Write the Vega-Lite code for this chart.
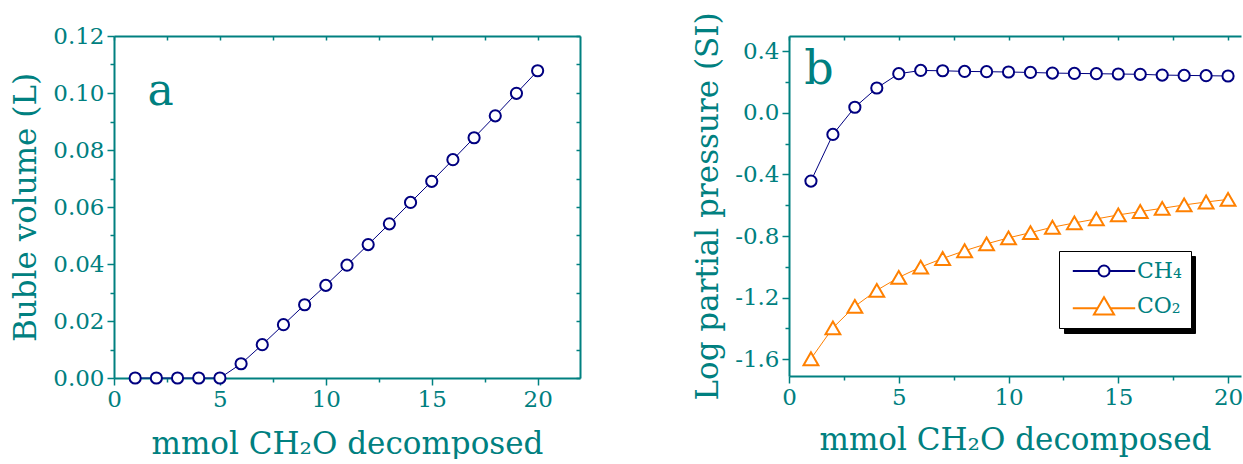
{
  "$schema": "https://vega.github.io/schema/vega-lite/v6.json",
  "padding": {"left": 10, "top": 11, "right": 0, "bottom": 0},
  "spacing": 209,
  "bounds": "flush",
  "datasets": {
    "bubble": [
      {"mmol": 1, "vol": 0}, {"mmol": 2, "vol": 0}, {"mmol": 3, "vol": 0}, {"mmol": 4, "vol": 0}, {"mmol": 5, "vol": 0},
      {"mmol": 6, "vol": 0.0050}, {"mmol": 7, "vol": 0.0117}, {"mmol": 8, "vol": 0.0187}, {"mmol": 9, "vol": 0.0257},
      {"mmol": 10, "vol": 0.0325}, {"mmol": 11, "vol": 0.0396}, {"mmol": 12, "vol": 0.0468}, {"mmol": 13, "vol": 0.0541},
      {"mmol": 14, "vol": 0.0616}, {"mmol": 15, "vol": 0.0690}, {"mmol": 16, "vol": 0.0766}, {"mmol": 17, "vol": 0.0843},
      {"mmol": 18, "vol": 0.0920}, {"mmol": 19, "vol": 0.0999}, {"mmol": 20, "vol": 0.1078}
    ],
    "pp": [
      {"mmol": 1, "gas": "CH₄", "logp": -0.443}, {"mmol": 2, "gas": "CH₄", "logp": -0.140}, {"mmol": 3, "gas": "CH₄", "logp": 0.037},
      {"mmol": 4, "gas": "CH₄", "logp": 0.162}, {"mmol": 5, "gas": "CH₄", "logp": 0.255}, {"mmol": 6, "gas": "CH₄", "logp": 0.276},
      {"mmol": 7, "gas": "CH₄", "logp": 0.274}, {"mmol": 8, "gas": "CH₄", "logp": 0.270}, {"mmol": 9, "gas": "CH₄", "logp": 0.268},
      {"mmol": 10, "gas": "CH₄", "logp": 0.266}, {"mmol": 11, "gas": "CH₄", "logp": 0.263}, {"mmol": 12, "gas": "CH₄", "logp": 0.259},
      {"mmol": 13, "gas": "CH₄", "logp": 0.257}, {"mmol": 14, "gas": "CH₄", "logp": 0.255}, {"mmol": 15, "gas": "CH₄", "logp": 0.253},
      {"mmol": 16, "gas": "CH₄", "logp": 0.251}, {"mmol": 17, "gas": "CH₄", "logp": 0.246}, {"mmol": 18, "gas": "CH₄", "logp": 0.244},
      {"mmol": 19, "gas": "CH₄", "logp": 0.242}, {"mmol": 20, "gas": "CH₄", "logp": 0.240},
      {"mmol": 1, "gas": "CO₂", "logp": -1.598}, {"mmol": 2, "gas": "CO₂", "logp": -1.397}, {"mmol": 3, "gas": "CO₂", "logp": -1.257},
      {"mmol": 4, "gas": "CO₂", "logp": -1.153}, {"mmol": 5, "gas": "CO₂", "logp": -1.069}, {"mmol": 6, "gas": "CO₂", "logp": -1.002},
      {"mmol": 7, "gas": "CO₂", "logp": -0.946}, {"mmol": 8, "gas": "CO₂", "logp": -0.896}, {"mmol": 9, "gas": "CO₂", "logp": -0.851},
      {"mmol": 10, "gas": "CO₂", "logp": -0.812}, {"mmol": 11, "gas": "CO₂", "logp": -0.778}, {"mmol": 12, "gas": "CO₂", "logp": -0.743},
      {"mmol": 13, "gas": "CO₂", "logp": -0.715}, {"mmol": 14, "gas": "CO₂", "logp": -0.689}, {"mmol": 15, "gas": "CO₂", "logp": -0.663},
      {"mmol": 16, "gas": "CO₂", "logp": -0.641}, {"mmol": 17, "gas": "CO₂", "logp": -0.620}, {"mmol": 18, "gas": "CO₂", "logp": -0.598},
      {"mmol": 19, "gas": "CO₂", "logp": -0.579}, {"mmol": 20, "gas": "CO₂", "logp": -0.562}
    ],
    "labelA": [{"label": "a", "mmol": 2.2, "vol": 0.0958}],
    "labelB": [{"label": "b", "mmol": 1.37, "logp": 0.19}]
  },
  "hconcat": [
    {
      "width": 466,
      "height": 342,
      "layer": [
        {
          "data": {"name": "bubble"},
          "mark": {"type": "line", "color": "#000080", "strokeWidth": 1},
          "encoding": {
            "x": {
              "field": "mmol", "type": "quantitative",
              "scale": {"domain": [0, 22], "nice": false, "zero": false},
              "axis": {
                "orient": "bottom",
                "values": [0, 2.5, 5, 7.5, 10, 12.5, 15, 17.5, 20],
                "labelExpr": "datum.value % 5 == 0 ? format(datum.value, 'd') : ''",
                "tickSize": {"condition": {"test": "datum.value % 5 == 0", "value": 7}, "value": 4},
                "title": "mmol CH₂O decomposed",
                "titlePadding": 18
              }
            },
            "y": {
              "field": "vol", "type": "quantitative",
              "scale": {"domain": [0, 0.12], "nice": false},
              "axis": {
                "orient": "left",
                "values": [0, 0.01, 0.02, 0.03, 0.04, 0.05, 0.06, 0.07, 0.08, 0.09, 0.1, 0.11, 0.12],
                "labelExpr": "round(datum.value * 100) % 2 == 0 ? format(datum.value, '.2f') : ''",
                "tickSize": {"condition": {"test": "round(datum.value * 100) % 2 == 0", "value": 7}, "value": 4},
                "title": "Buble volume (L)",
                "titlePadding": 10
              }
            }
          }
        },
        {
          "data": {"name": "bubble"},
          "mark": {"type": "point", "shape": "circle", "size": 125, "filled": true, "fill": "white", "stroke": "#000080", "strokeWidth": 2, "opacity": 1},
          "encoding": {
            "x": {"field": "mmol", "type": "quantitative", "axis": null},
            "y": {"field": "vol", "type": "quantitative", "axis": null}
          }
        },
        {
          "data": {"name": "labelA"},
          "mark": {"type": "text", "font": "DejaVu Serif", "fontSize": 44, "color": "#008080", "align": "center", "baseline": "alphabetic"},
          "encoding": {
            "x": {"field": "mmol", "type": "quantitative", "axis": null},
            "y": {"field": "vol", "type": "quantitative", "axis": null},
            "text": {"field": "label"}
          }
        },
        {
          "data": {"name": "bubble"},
          "mark": {"type": "point", "opacity": 0},
          "encoding": {
            "x": {
              "field": "mmol", "type": "quantitative",
              "axis": {"orient": "top", "values": [0, 2.5, 5, 7.5, 10, 12.5, 15, 17.5, 20], "labels": false, "tickSize": -4, "title": null}
            },
            "y": {
              "field": "vol", "type": "quantitative",
              "axis": {"orient": "right", "values": [0, 0.01, 0.02, 0.03, 0.04, 0.05, 0.06, 0.07, 0.08, 0.09, 0.1, 0.11, 0.12], "labels": false, "tickSize": -4, "title": null}
            }
          }
        }
      ],
      "resolve": {"axis": {"x": "independent", "y": "independent"}}
    },
    {
      "width": 452,
      "height": 340,
      "layer": [
        {
          "data": {"name": "pp"},
          "mark": {"type": "line", "strokeWidth": 1},
          "encoding": {
            "x": {
              "field": "mmol", "type": "quantitative",
              "scale": {"domain": [0, 20.59], "nice": false, "zero": false},
              "axis": {
                "orient": "bottom",
                "values": [0, 2.5, 5, 7.5, 10, 12.5, 15, 17.5, 20],
                "labelExpr": "datum.value % 5 == 0 ? format(datum.value, 'd') : ''",
                "tickSize": {"condition": {"test": "datum.value % 5 == 0", "value": 7}, "value": 4},
                "title": "mmol CH₂O decomposed",
                "titlePadding": 16
              }
            },
            "y": {
              "field": "logp", "type": "quantitative",
              "scale": {"domain": [-1.71, 0.5], "nice": false, "zero": false},
              "axis": {
                "orient": "left",
                "values": [-1.6, -1.4, -1.2, -1, -0.8, -0.6, -0.4, -0.2, 0, 0.2, 0.4],
                "labelExpr": "abs(round(datum.value * 10)) % 4 == 0 ? replace(format(datum.value, '.1f'), '−', '-') : ''",
                "tickSize": {"condition": {"test": "abs(round(datum.value * 10)) % 4 == 0", "value": 7}, "value": 4},
                "title": "Log partial pressure (SI)",
                "titlePadding": 10
              }
            },
            "color": {"field": "gas", "type": "nominal", "scale": {"domain": ["CH₄", "CO₂"], "range": ["#000080", "#FF8000"]}, "legend": null}
          }
        },
        {
          "data": {"name": "pp"},
          "mark": {"type": "point", "filled": true, "fill": "white", "strokeWidth": 2, "opacity": 1},
          "encoding": {
            "x": {"field": "mmol", "type": "quantitative", "axis": null},
            "y": {"field": "logp", "type": "quantitative", "axis": null},
            "stroke": {"field": "gas", "type": "nominal", "scale": {"domain": ["CH₄", "CO₂"], "range": ["#000080", "#FF8000"]}, "legend": null},
            "shape": {"field": "gas", "type": "nominal", "scale": {"domain": ["CH₄", "CO₂"], "range": ["circle", "triangle-up"]}, "legend": null},
            "size": {"field": "gas", "type": "nominal", "scale": {"domain": ["CH₄", "CO₂"], "range": [125, 220]}, "legend": null}
          }
        },
        {
          "data": {"name": "labelB"},
          "mark": {"type": "text", "font": "DejaVu Serif", "fontSize": 46, "color": "#008080", "align": "center", "baseline": "alphabetic"},
          "encoding": {
            "x": {"field": "mmol", "type": "quantitative", "axis": null},
            "y": {"field": "logp", "type": "quantitative", "axis": null},
            "text": {"field": "label"}
          }
        },
        {
          "data": {"name": "pp"},
          "mark": {"type": "point", "opacity": 0},
          "encoding": {
            "x": {
              "field": "mmol", "type": "quantitative",
              "axis": {"orient": "top", "values": [0, 2.5, 5, 7.5, 10, 12.5, 15, 17.5, 20], "labels": false, "tickSize": -4, "title": null}
            },
            "y": {"field": "logp", "type": "quantitative", "axis": null}
          }
        },
        {
          "data": {"name": "pp"},
          "mark": {"type": "point", "opacity": 0, "filled": false},
          "encoding": {
            "x": {"field": "mmol", "type": "quantitative", "axis": null},
            "y": {"field": "logp", "type": "quantitative", "axis": null},
            "color": {
              "field": "gas", "type": "nominal",
              "scale": {"domain": ["CH₄", "CO₂"], "range": ["#000000", "#000000"]},
              "legend": {"orient": "none", "legendX": 275, "legendY": 220, "title": null, "fillColor": "black", "strokeColor": "black", "padding": 9, "labelFont": "DejaVu Serif", "labelFontSize": 22, "labelColor": "black", "labelExpr": "'\u2003\u2003'", "symbolSize": 169, "symbolStrokeWidth": 2, "symbolOpacity": 1, "symbolOffset": 25, "labelOffset": 22, "rowPadding": 11, "zindex": 1}
            },
            "shape": {
              "field": "gas", "type": "nominal",
              "scale": {"domain": ["CH₄", "CO₂"], "range": ["M-4.8,0H-0.85M0.85,0H11.1M0.85,0A0.85,0.85,0,1,1,-0.85,0A0.85,0.85,0,1,1,0.85,0", "M-4.8,0.35H-1M1,0.35H11.1M0,-1.35L1.55,1.3L-1.55,1.3Z"]},
              "legend": {"orient": "none", "legendX": 275, "legendY": 220, "title": null, "fillColor": "black", "strokeColor": "black", "padding": 9, "labelFont": "DejaVu Serif", "labelFontSize": 22, "labelColor": "black", "labelExpr": "'\u2003\u2003'", "symbolSize": 169, "symbolStrokeWidth": 2, "symbolOpacity": 1, "symbolOffset": 25, "labelOffset": 22, "rowPadding": 11, "zindex": 1}
            }
          }
        },
        {
          "data": {"name": "pp"},
          "mark": {"type": "point", "opacity": 0, "filled": false},
          "encoding": {
            "x": {"field": "mmol", "type": "quantitative", "axis": null},
            "y": {"field": "logp", "type": "quantitative", "axis": null},
            "color": {
              "field": "gas", "type": "nominal",
              "scale": {"domain": ["CH₄", "CO₂"], "range": ["#000080", "#FF8000"]},
              "legend": {"orient": "none", "legendX": 270, "legendY": 215, "title": null, "fillColor": "white", "strokeColor": "black", "padding": 9, "labelFont": "DejaVu Serif", "labelFontSize": 22, "labelColor": "#008080", "symbolSize": 169, "symbolStrokeWidth": 2, "symbolOpacity": 1, "symbolOffset": 25, "labelOffset": 22, "rowPadding": 11, "zindex": 2}
            },
            "shape": {
              "field": "gas", "type": "nominal",
              "scale": {"domain": ["CH₄", "CO₂"], "range": ["M-4.8,0H-0.85M0.85,0H4.8M0.85,0A0.85,0.85,0,1,1,-0.85,0A0.85,0.85,0,1,1,0.85,0", "M-4.8,0.35H-1M1,0.35H4.8M0,-1.35L1.55,1.3L-1.55,1.3Z"]},
              "legend": {"orient": "none", "legendX": 270, "legendY": 215, "title": null, "fillColor": "white", "strokeColor": "black", "padding": 9, "labelFont": "DejaVu Serif", "labelFontSize": 22, "labelColor": "#008080", "symbolSize": 169, "symbolStrokeWidth": 2, "symbolOpacity": 1, "symbolOffset": 25, "labelOffset": 22, "rowPadding": 11, "zindex": 2}
            }
          }
        }
      ],
      "resolve": {
        "axis": {"x": "independent", "y": "independent"},
        "scale": {"color": "independent", "shape": "independent", "stroke": "independent", "size": "independent"},
        "legend": {"color": "independent", "shape": "independent"}
      }
    }
  ],
  "config": {
    "view": {"stroke": null},
    "axis": {
      "grid": false,
      "labelFont": "DejaVu Serif",
      "labelFontSize": 23,
      "labelColor": "#008080",
      "labelPadding": 3,
      "labelOverlap": false,
      "labelFlush": false,
      "titleFont": "DejaVu Serif",
      "titleFontSize": 31,
      "titleFontWeight": "normal",
      "titleColor": "#008080",
      "domainColor": "#008080",
      "domainWidth": 2,
      "tickColor": "#008080",
      "tickWidth": 1.5
    }
  }
}
